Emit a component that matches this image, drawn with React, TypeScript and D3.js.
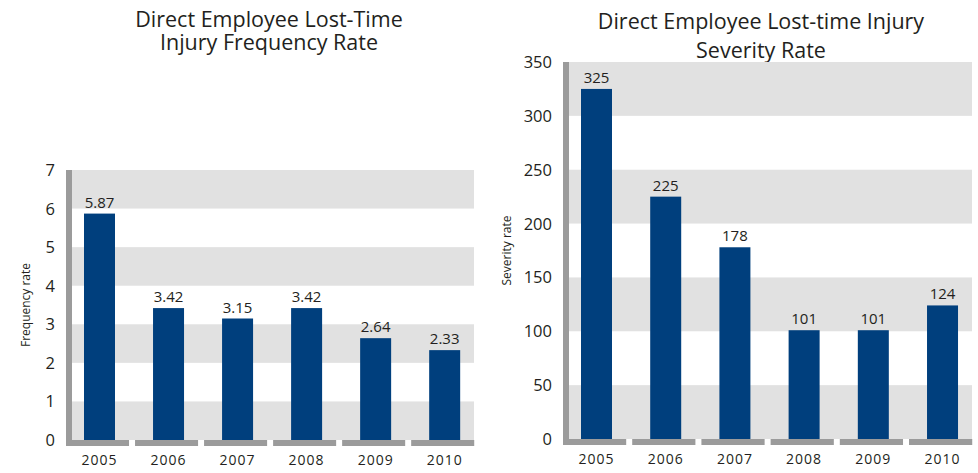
import React from "react";
import { scaleLinear, scaleBand, range } from "d3";

// data
const years = ["2005", "2006", "2007", "2008", "2009", "2010"];
const frequencyRate = [5.87, 3.42, 3.15, 3.42, 2.64, 2.33];
const frequencyLabels = ["5.87", "3.42", "3.15", "3.42", "2.64", "2.33"];
const frequencyTicks = [0, 1, 2, 3, 4, 5, 6, 7];
const severityRate = [325, 225, 178, 101, 101, 124];
const severityLabels = ["325", "225", "178", "101", "101", "124"];
const severityTicks = [0, 50, 100, 150, 200, 250, 300, 350];

const FONT = "'Open Sans', 'Noto Sans', sans-serif";
const BAR = "#003f7d";
const BAND = "#e1e1e1";
const AXIS = "#9b9b9b";
const TEXT = "#231f20";

type ChartProps = {
  title: string[];
  titleX: number;
  titleY: number[];
  yTitle: string;
  yTitleX: number;
  values: number[];
  labels: string[];
  ticks: number[];
  left: number; // x of y-axis bar
  right: number;
  top: number;
  bottom: number;
};

function Chart(p: ChartProps) {
  const maxV = p.ticks[p.ticks.length - 1];
  const y = scaleLinear().domain([0, maxV]).range([p.bottom, p.top]);
  const x = scaleBand<string>()
    .domain(years)
    .range([p.left, p.left + (p.right - p.left) * 6 / 5.91]);
  const segW = x.step() - 6;
  const barW = 31;
  const plotL = p.left + 6;

  return (
    <g>
      {p.title.map((t, i) => (
        <text key={i} x={p.titleX} y={p.titleY[i]} textAnchor="middle"
          fontFamily={FONT} fontSize={21.5} fill={TEXT}>{t}</text>
      ))}
      {/* alternating bands */}
      {range(p.ticks.length - 1).filter(i => i % 2 === 0).map(i => (
        <rect key={i} x={plotL} width={p.right - plotL}
          y={y(p.ticks[i + 1])} height={y(p.ticks[i]) - y(p.ticks[i + 1])} fill={BAND} />
      ))}
      {/* y axis bar */}
      <rect x={p.left} y={p.top} width={6} height={p.bottom - p.top + 6} fill={AXIS} />
      {/* x axis segments */}
      {years.map(yr => (
        <rect key={yr} x={x(yr)!} y={p.bottom} width={segW} height={6} fill={AXIS} />
      ))}
      {p.ticks.map(t => (
        <text key={t} x={p.left - 11} y={y(t) + 6} textAnchor="end"
          fontFamily={FONT} fontSize={16.5} fill={TEXT}>{t}</text>
      ))}
      <text transform={`translate(${p.yTitleX},${(p.top + p.bottom) / 2}) rotate(-90)`}
        textAnchor="middle" fontFamily={FONT} fontSize={12} fill={TEXT}>{p.yTitle}</text>
      {years.map((yr, i) => {
        const bx = x(yr)! + 18;
        return (
          <g key={yr}>
            <rect x={bx} y={y(p.values[i])} width={barW} height={p.bottom - y(p.values[i])} fill={BAR} />
            <text x={bx + barW / 2} y={y(p.values[i]) - 6} textAnchor="middle"
              fontFamily={FONT} fontSize={15} fill={TEXT}>{p.labels[i]}</text>
            <text x={bx + barW / 2} y={p.bottom + 25} textAnchor="middle" letterSpacing={1}
              fontFamily={FONT} fontSize={14} fill={TEXT}>{yr}</text>
          </g>
        );
      })}
    </g>
  );
}

export default function App() {
  return (
    <svg width={978} height={473} style={{ position: "absolute", left: 0, top: 0 }}>
      <rect width={978} height={473} fill="#fff" />
      <Chart title={["Direct Employee Lost-Time", "Injury Frequency Rate"]} titleX={269}
        titleY={[27, 50]} yTitle="Frequency rate" yTitleX={30} values={frequencyRate}
        labels={frequencyLabels} ticks={frequencyTicks} left={66} right={474} top={170} bottom={440} />
      <Chart title={["Direct Employee Lost-time Injury", "Severity Rate"]} titleX={761}
        titleY={[29, 58]} yTitle="Severity rate" yTitleX={511} values={severityRate}
        labels={severityLabels} ticks={severityTicks} left={563} right={972} top={62} bottom={439} />
    </svg>
  );
}
